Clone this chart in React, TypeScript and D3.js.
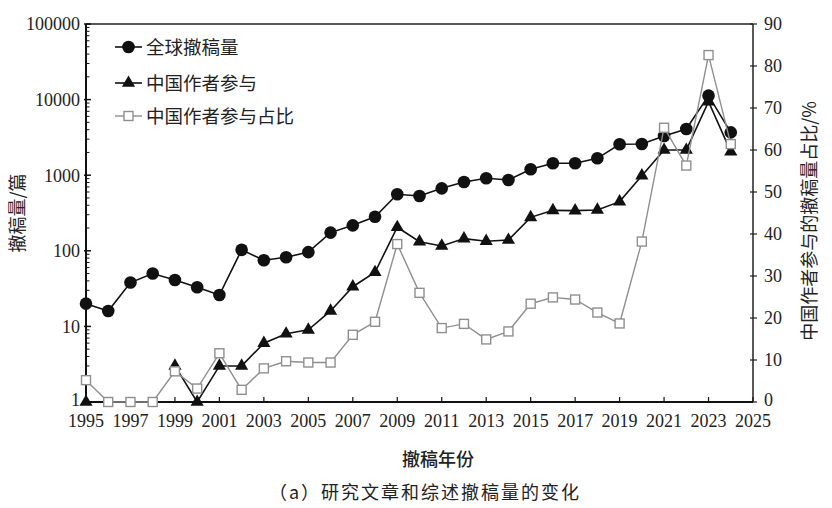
import React, { useEffect, useRef } from "react";
import * as d3 from "d3";

const years = d3.range(1995, 2025);
const globalRetractions = [20, 16, 38, 50, 41, 33, 26, 103, 75, 82, 96, 174, 217, 282, 559, 531, 670, 813, 910, 865, 1197, 1436, 1436, 1672, 2561, 2586, 3300, 4085, 11270, 3690];
const chinaRetractions: (number | null)[] = [1, null, null, null, 3, 1, 3, 3, 6, 8, 9, 16, 33.5, 52, 205, 132, 116, 145, 134, 139, 277, 343, 340, 347, 447, 985, 2155, 2155, 9380, 2046];
const chinaShare = [5.2, 0, 0, 0, 7.3, 3.2, 11.6, 2.9, 8.0, 9.7, 9.4, 9.4, 16.0, 19.1, 37.6, 26.0, 17.6, 18.6, 14.9, 16.8, 23.4, 24.9, 24.4, 21.3, 18.7, 38.2, 65.3, 56.3, 82.6, 61.4];
const leftTicks = [1, 10, 100, 1000, 10000, 100000];
const rightTicks = [0, 10, 20, 30, 40, 50, 60, 70, 80, 90];
const xTicks = d3.range(1995, 2026, 2);
const legendLabels = ["全球撤稿量", "中国作者参与", "中国作者参与占比"];
const leftTitle = "撤稿量/篇";
const rightTitle = "中国作者参与的撤稿量占比/%";
const xTitle = "撤稿年份";
const caption = "（a）研究文章和综述撤稿量的变化";

const W = 832, H = 508;
const M = { left: 86, top: 24, right: 753, bottom: 402 };
const NUM_FONT = "'Liberation Serif', 'DejaVu Serif', serif";
const CJK_FONT = "'Noto Sans CJK SC', 'Noto Sans', sans-serif";
const GREY = "#8f8f8f";

export default function App() {
  const ref = useRef<SVGSVGElement>(null);
  useEffect(() => {
    const svg = d3.select(ref.current!);
    svg.selectAll("*").remove();
    const x = d3.scaleLinear().domain([1995, 2025]).range([M.left, M.right]);
    const yL = d3.scaleLog().domain([1, 100000]).range([M.bottom, M.top]);
    const yR = d3.scaleLinear().domain([0, 90]).range([M.bottom, M.top]);

    svg.append("rect").attr("width", W).attr("height", H).attr("fill", "#fff");

    // frame
    svg.append("line").attr("x1", M.left).attr("x2", M.right).attr("y1", M.top).attr("y2", M.top).attr("stroke", "#222").attr("stroke-width", 1.5);
    svg.append("line").attr("x1", M.right).attr("x2", M.right).attr("y1", M.top).attr("y2", M.bottom).attr("stroke", "#222").attr("stroke-width", 1.5);

    // left axis
    const gl = svg.append("g");
    gl.append("line").attr("x1", M.left).attr("x2", M.left).attr("y1", M.top).attr("y2", M.bottom).attr("stroke", "#111").attr("stroke-width", 2);
    leftTicks.forEach((t) => {
      gl.append("line").attr("x1", M.left - 2).attr("x2", M.left + 5).attr("y1", yL(t)).attr("y2", yL(t)).attr("stroke", "#111").attr("stroke-width", 1.5);
      gl.append("text").attr("x", M.left - 6).attr("y", yL(t) - (t === 1 ? 2 : 0)).attr("dy", "0.35em").attr("text-anchor", "end")
        .attr("font-family", NUM_FONT).attr("font-size", 18).attr("fill", "#222").text(String(t));
    });
    for (let d = 1; d < 100000; d *= 10) {
      for (let k = 2; k <= 9; k++) {
        gl.append("line").attr("x1", M.left).attr("x2", M.left + 3.5).attr("y1", yL(d * k)).attr("y2", yL(d * k)).attr("stroke", "#111").attr("stroke-width", 1);
      }
    }

    // right axis
    rightTicks.forEach((t) => {
      svg.append("line").attr("x1", M.right - 3).attr("x2", M.right + 4).attr("y1", yR(t)).attr("y2", yR(t)).attr("stroke", "#222").attr("stroke-width", 1.2);
      svg.append("text").attr("x", M.right + 11).attr("y", yR(t) - (t === 0 ? 2 : 0)).attr("dy", "0.35em").attr("text-anchor", "start")
        .attr("font-family", NUM_FONT).attr("font-size", 18).attr("fill", "#222").text(String(t));
    });

    // bottom axis
    svg.append("line").attr("x1", M.left).attr("x2", M.right).attr("y1", M.bottom).attr("y2", M.bottom).attr("stroke", "#111").attr("stroke-width", 2);
    xTicks.forEach((t) => {
      svg.append("line").attr("x1", x(t)).attr("x2", x(t)).attr("y1", M.bottom).attr("y2", M.bottom - 5).attr("stroke", "#111").attr("stroke-width", 1.2);
      svg.append("text").attr("x", x(t)).attr("y", M.bottom + 25).attr("text-anchor", "middle")
        .attr("font-family", NUM_FONT).attr("font-size", 18).attr("fill", "#222").text(String(t));
    });

    // series: global (circles)
    const lineG = d3.line<number>().x((_, i) => x(years[i])).y((d) => yL(d));
    svg.append("path").attr("d", lineG(globalRetractions)!).attr("fill", "none").attr("stroke", "#111").attr("stroke-width", 1.6);
    globalRetractions.forEach((v, i) => {
      svg.append("circle").attr("cx", x(years[i])).attr("cy", yL(v)).attr("r", 6.3).attr("fill", "#111");
    });

    // china (triangles)
    const tri = d3.symbol().type(d3.symbolTriangle).size(75);
    const lineC = d3.line<number | null>().defined((d) => d != null).x((_, i) => x(years[i])).y((d) => yL(d as number));
    svg.append("path").attr("d", lineC(chinaRetractions)!).attr("fill", "none").attr("stroke", "#111").attr("stroke-width", 1.6);
    chinaRetractions.forEach((v, i) => {
      if (v == null) return;
      svg.append("path").attr("d", tri()!).attr("transform", `translate(${x(years[i])},${yL(v)})`).attr("fill", "#111");
    });

    // share (squares)
    const lineS = d3.line<number>().x((_, i) => x(years[i])).y((d) => yR(d));
    svg.append("path").attr("d", lineS(chinaShare)!).attr("fill", "none").attr("stroke", GREY).attr("stroke-width", 1.4);
    chinaShare.forEach((v, i) => {
      svg.append("rect").attr("x", x(years[i]) - 4.5).attr("y", yR(v) - 4.5).attr("width", 9).attr("height", 9)
        .attr("fill", "#fff").attr("stroke", GREY).attr("stroke-width", 1.4);
    });

    // legend
    const lg = svg.append("g");
    const ly = [47, 83, 116];
    const lx0 = 115, lx1 = 142, lxc = 128.5;
    ly.forEach((yy, i) => {
      lg.append("line").attr("x1", lx0).attr("x2", lx1).attr("y1", yy).attr("y2", yy)
        .attr("stroke", i === 2 ? GREY : "#111").attr("stroke-width", i === 2 ? 1.4 : 1.6);
      if (i === 0) lg.append("circle").attr("cx", lxc).attr("cy", yy).attr("r", 6.3).attr("fill", "#111");
      if (i === 1) lg.append("path").attr("d", tri()!).attr("transform", `translate(${lxc},${yy})`).attr("fill", "#111");
      if (i === 2) lg.append("rect").attr("x", lxc - 4.5).attr("y", yy - 4.5).attr("width", 9).attr("height", 9).attr("fill", "#fff").attr("stroke", GREY).attr("stroke-width", 1.4);
      lg.append("text").attr("x", 146).attr("y", yy).attr("dy", "0.36em").attr("font-family", CJK_FONT).attr("font-size", 18.5)
        .attr("fill", "#222").text(legendLabels[i]);
    });

    // titles
    svg.append("text").attr("transform", `translate(24,${(M.top + M.bottom) / 2}) rotate(-90)`).attr("text-anchor", "middle")
      .attr("font-family", CJK_FONT).attr("font-size", 18).attr("fill", "#222").text(leftTitle);
    svg.append("text").attr("transform", `translate(810,${(M.top + M.bottom) / 2 + 8}) rotate(-90)`).attr("text-anchor", "middle")
      .attr("dy", "0.35em").attr("font-family", CJK_FONT).attr("font-size", 18).attr("fill", "#222").text(rightTitle);
    svg.append("text").attr("x", 438).attr("y", 466).attr("text-anchor", "middle")
      .attr("font-family", CJK_FONT).attr("font-size", 18).attr("font-weight", 500).attr("fill", "#222").text(xTitle);
    svg.append("text").attr("x", 425).attr("y", 499).attr("text-anchor", "middle")
      .attr("font-family", CJK_FONT).attr("font-size", 18).attr("letter-spacing", 2).attr("fill", "#222").text(caption);
  }, []);
  return (
    <svg ref={ref} width={W} height={H} style={{ display: "block", position: "absolute", left: 0, top: 0 }} />
  );
}
